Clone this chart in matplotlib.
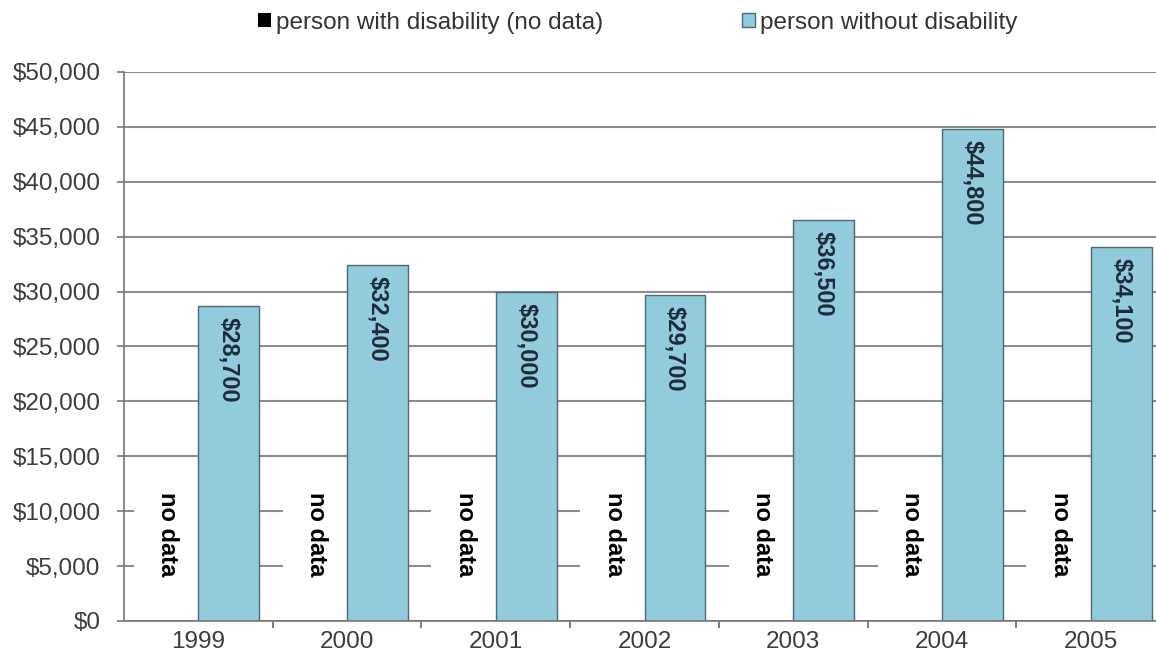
import numpy as np
import matplotlib
matplotlib.use("Agg")
import matplotlib.pyplot as plt
from matplotlib.ticker import FuncFormatter, MultipleLocator

plt.rcParams['font.family'] = ['Liberation Sans', 'DejaVu Sans']

# data
years = ['1999', '2000', '2001', '2002', '2003', '2004', '2005']
with_disability = [np.nan] * 7          # no data for any year
without_disability = [28700, 32400, 30000, 29700, 36500, 44800, 34100]
value_labels = ['$28,700', '$32,400', '$30,000', '$29,700', '$36,500', '$44,800', '$34,100']
legend_labels = ['person with disability (no data)', 'person without disability']

fig = plt.figure(figsize=(11.56, 6.65), dpi=100)
ax = fig.add_axes([0.1073, 0.0662, 0.9005, 0.8256])

x = np.arange(len(years))
w = 0.41

b_with = ax.bar(x - w / 2, with_disability, width=w, color='black',
                label=legend_labels[0], zorder=2)
b_without = ax.bar(x + w / 2, without_disability, width=w, color='#92cbdc',
                   edgecolor='#4a6878', linewidth=1.0, label=legend_labels[1],
                   zorder=2)

# value labels inside the blue bars
for xi, v, lab in zip(x, without_disability, value_labels):
    ax.annotate(lab, (xi + w / 2, v), xytext=(0, -8), textcoords='offset points',
                rotation=-90, ha='center', va='top', fontsize=17,
                fontweight='bold', color='#1c2b38', zorder=3)

# "no data" labels where the disability bars would be (white box hides grid)
for xi in x:
    ax.text(xi - w / 2, 7900, 'no data', rotation=-90, ha='center', va='center',
            fontsize=17, fontweight='bold', color='black', zorder=1.5,
            bbox=dict(boxstyle='square,pad=0.95', facecolor='white',
                      edgecolor='none'))

ax.set_xlim(-0.5, len(years) - 0.5)
ax.set_ylim(0, 50000)
ax.yaxis.set_major_locator(MultipleLocator(5000))
ax.yaxis.set_major_formatter(FuncFormatter(lambda v, p: '${:,.0f}'.format(v)))

ax.set_xticks(x)
ax.set_xticklabels(years)
ax.set_xticks(x[:-1] + 0.5, minor=True)
ax.tick_params(axis='x', which='major', length=0, pad=7, labelsize=17.5,
               labelcolor='#3c3c3c')
ax.tick_params(axis='x', which='minor', length=5, width=1.2, color='#666666')
ax.tick_params(axis='y', length=5, width=1.2, color='#777777', pad=12,
               labelsize=17.5, labelcolor='#3c3c3c')

ax.set_axisbelow(True)
ax.yaxis.grid(True, color='#8c8c8c', linewidth=1.5, zorder=0.5)
for s in ['top', 'right']:
    ax.spines[s].set_visible(False)
ax.spines['left'].set_color('#777777')
ax.spines['left'].set_linewidth(1.2)
ax.spines['bottom'].set_color('#777777')
ax.spines['bottom'].set_linewidth(1.2)

fig.legend(handles=[b_with, b_without], labels=legend_labels, loc='center',
           bbox_to_anchor=(0.5515, 0.966), ncol=2, frameon=False, fontsize=17.5,
           handlelength=0.55, handleheight=0.55, handletextpad=0.2,
           columnspacing=5.7, labelcolor='#333333')

fig.savefig('out.png', dpi=100)
